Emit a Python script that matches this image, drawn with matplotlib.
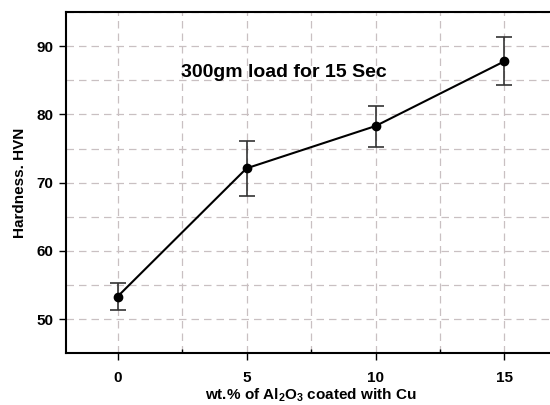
import matplotlib
matplotlib.use("Agg")
import matplotlib.pyplot as plt
from matplotlib.ticker import MultipleLocator

# data
wt_pct = [0, 5, 10, 15]
hardness = [53.3, 72.1, 78.3, 87.8]
hardness_err = [2.0, 4.0, 3.0, 3.5]

plt.rcParams['font.family'] = ['Liberation Sans', 'DejaVu Sans']
plt.rcParams['mathtext.fontset'] = 'custom'
plt.rcParams['mathtext.rm'] = 'Liberation Sans:bold'
plt.rcParams['mathtext.default'] = 'regular'

fig = plt.figure(figsize=(5.5, 4.05), dpi=100)
ax = fig.add_axes([0.12, 0.128, 0.891, 0.842])

ax.errorbar(wt_pct, hardness, yerr=hardness_err, color='black', lw=1.5,
            marker='o', ms=6, ecolor='#333333', elinewidth=1.2,
            capsize=6, capthick=1.2, zorder=3)

ax.set_xlim(-2, 17)
ax.set_ylim(45, 95)
ax.xaxis.set_major_locator(MultipleLocator(5))
ax.xaxis.set_minor_locator(MultipleLocator(2.5))
ax.yaxis.set_major_locator(MultipleLocator(10))
ax.yaxis.set_minor_locator(MultipleLocator(5))

ax.grid(True, which='both', color='#c9c0c2', ls=(0, (6, 4)), lw=0.9)
ax.set_axisbelow(True)

for s in ['left', 'bottom', 'top', 'right']:
    ax.spines[s].set_linewidth(1.5)

ax.tick_params(which='major', direction='out', length=5, width=1, pad=8)
ax.tick_params(axis='y', which='major', pad=4)
ax.tick_params(axis='x', which='minor', direction='in', length=3, width=1)
ax.tick_params(axis='y', which='minor', length=0)
for lbl in ax.get_xticklabels() + ax.get_yticklabels():
    lbl.set_fontweight('bold')
    lbl.set_fontsize(11)

ax.set_xlabel('wt.% of Al$_2$O$_3$ coated with Cu', fontsize=11,
              fontweight='bold', labelpad=1)
ax.set_ylabel('Hardness. HVN', fontsize=11, fontweight='bold', labelpad=7)

ax.text(6.43, 86.1, '300gm load for 15 Sec', fontsize=14, fontweight='bold',
        ha='center', va='center')

fig.savefig('out.png', dpi=100)
